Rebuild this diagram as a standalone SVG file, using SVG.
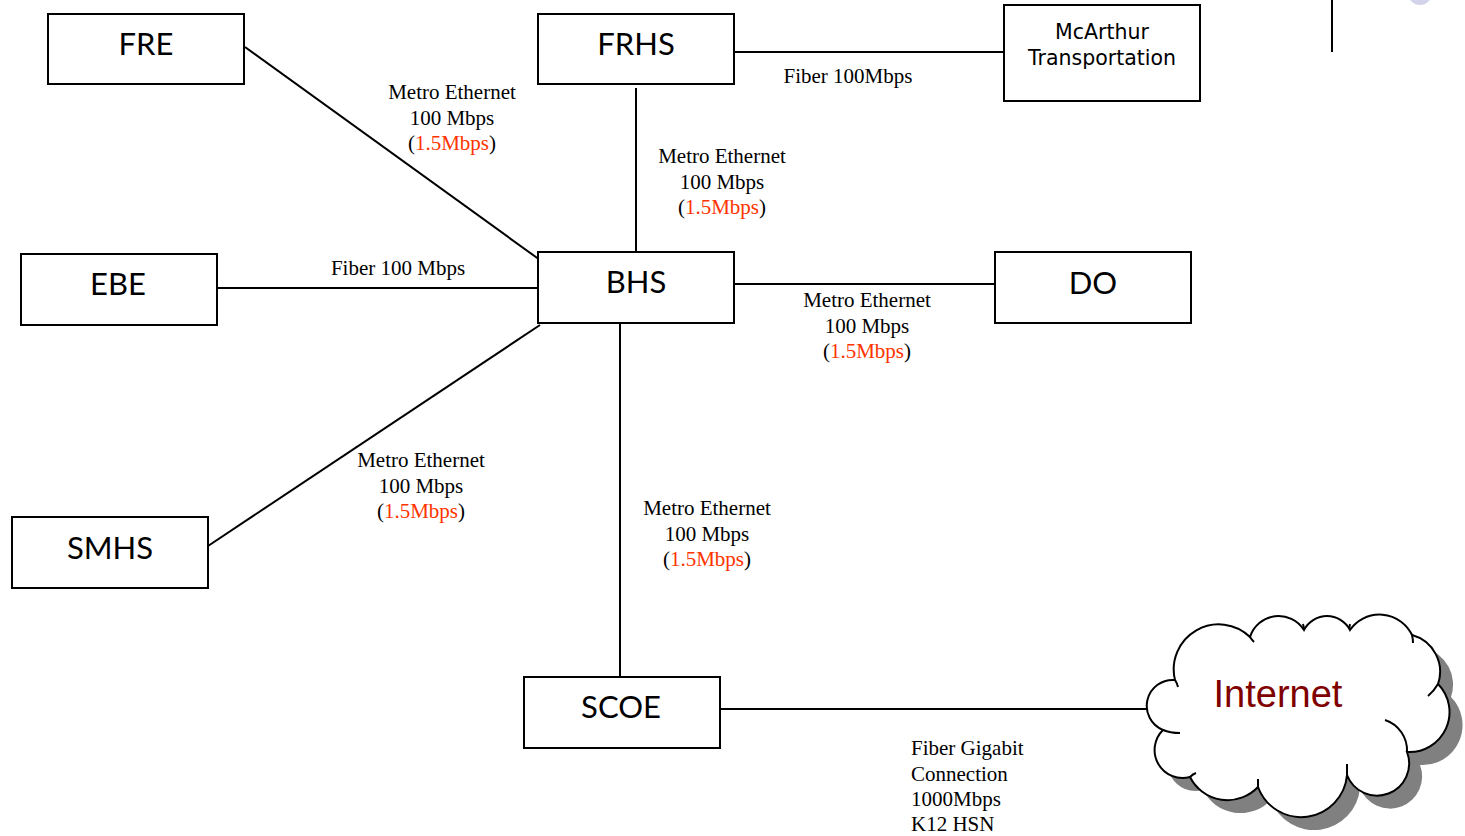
<svg xmlns="http://www.w3.org/2000/svg" width="1465" height="836" viewBox="0 0 1465 836">
<style>
.box{fill:#fff;stroke:#000;stroke-width:2}
.nl{font-family:Lato,"Open Sans","DejaVu Sans",sans-serif;font-size:31px;fill:#000;text-anchor:middle}
.lbl{font-family:"Liberation Serif","Times New Roman",serif;font-size:21px;fill:#000;text-anchor:middle}
.lbl.st{text-anchor:start}
.red{fill:#FF3300}
.conn line{stroke:#000;stroke-width:2}
.cl{fill:none;stroke:#000;stroke-width:2}
</style>
<rect width="1465" height="836" fill="#fff"/>
<line x1="1332" y1="0" x2="1332" y2="52" stroke="#000" stroke-width="2"/>
<circle cx="1420" cy="-7" r="12" fill="#D3D3EA"/>
<g id="connectors" class="conn">
<line x1="245" y1="47" x2="540" y2="260"/>
<line x1="732" y1="52" x2="1004" y2="52"/>
<line x1="636" y1="88" x2="636" y2="252"/>
<line x1="217" y1="288" x2="538" y2="288"/>
<line x1="734" y1="284" x2="995" y2="284"/>
<line x1="540" y1="325" x2="205" y2="548"/>
<line x1="620" y1="323" x2="620" y2="677"/>
<line x1="718" y1="709" x2="1148" y2="709"/>
</g>
<g id="FRE"><rect class="box" x="48" y="14" width="196" height="70"/><text class="nl" x="146" y="55">FRE</text></g>
<g id="FRHS"><rect class="box" x="538" y="14" width="196" height="70"/><text class="nl" x="636" y="55">FRHS</text></g>
<g id="McArthur"><rect class="box" x="1004" y="5" width="196" height="96"/><text x="1102" y="39" font-family="'DejaVu Sans',Verdana,sans-serif" font-size="20.5" text-anchor="middle">McArthur</text><text x="1102" y="65" font-family="'DejaVu Sans',Verdana,sans-serif" font-size="20.5" text-anchor="middle">Transportation</text></g>
<g id="EBE"><rect class="box" x="21" y="254" width="196" height="71"/><text class="nl" x="118" y="295">EBE</text></g>
<g id="BHS"><rect class="box" x="538" y="252" width="196" height="71"/><text class="nl" x="636" y="293">BHS</text></g>
<g id="DO"><rect class="box" x="995" y="252" width="196" height="71"/><text class="nl" x="1093" y="294">DO</text></g>
<g id="SMHS"><rect class="box" x="12" y="517" width="196" height="71"/><text class="nl" x="110" y="559">SMHS</text></g>
<g id="SCOE"><rect class="box" x="524" y="677" width="196" height="71"/><text class="nl" x="621" y="718">SCOE</text></g>
<g id="Internet">
<defs>
<path id="cloud" d="M1175,680 A45,45 0 0 1 1250,637 A30,30 0 0 1 1304,630 A26,26 0 0 1 1350,630 A36,36 0 0 1 1412,635 A38,38 0 0 1 1438,684 A40,40 0 0 1 1407,752 A32,32 0 0 1 1347,775 A46,46 0 0 1 1258,787 A42,42 0 0 1 1190,777 A28,28 0 0 1 1163,730 A26,26 0 0 1 1175,680 Z"/>
</defs>
<use href="#cloud" fill="#808080" transform="translate(13,13)"/>
<use href="#cloud" fill="#fff" stroke="#000" stroke-width="2"/>
<path class="cl" d="M1175,680 Q1177,683 1178,687"/>
<path class="cl" d="M1163,730 Q1170,733 1180,733"/>
<path class="cl" d="M1250,637 Q1252,640 1254,642"/>
<path class="cl" d="M1304,630 Q1304,627 1303,624"/>
<path class="cl" d="M1350,630 Q1349,627 1350,624"/>
<path class="cl" d="M1412,635 Q1413,639 1413,643"/>
<path class="cl" d="M1438,684 Q1434,691 1428,696"/>
<path class="cl" d="M1385,720 A32,32 0 0 1 1407,752"/>
<path class="cl" d="M1347,775 Q1347,770 1347,764"/>
<path class="cl" d="M1258,787 Q1258,783 1258,779"/>
<path class="cl" d="M1190,777 Q1193,774 1196,773"/>
<text x="1278" y="707" font-family="'Liberation Sans',Arial,sans-serif" font-size="38" fill="#800000" text-anchor="middle">Internet</text>
</g>
<g id="labels">
<text class="lbl" x="452" y="99">Metro Ethernet</text>
<text class="lbl" x="452" y="125">100 Mbps</text>
<text class="lbl" x="452" y="150">(<tspan class="red">1.5Mbps</tspan>)</text>
<text class="lbl" x="722" y="163">Metro Ethernet</text>
<text class="lbl" x="722" y="189">100 Mbps</text>
<text class="lbl" x="722" y="214">(<tspan class="red">1.5Mbps</tspan>)</text>
<text class="lbl" x="848" y="83">Fiber 100Mbps</text>
<text class="lbl" x="398" y="275">Fiber 100 Mbps</text>
<text class="lbl" x="867" y="307">Metro Ethernet</text>
<text class="lbl" x="867" y="333">100 Mbps</text>
<text class="lbl" x="867" y="358">(<tspan class="red">1.5Mbps</tspan>)</text>
<text class="lbl" x="421" y="467">Metro Ethernet</text>
<text class="lbl" x="421" y="493">100 Mbps</text>
<text class="lbl" x="421" y="518">(<tspan class="red">1.5Mbps</tspan>)</text>
<text class="lbl" x="707" y="515">Metro Ethernet</text>
<text class="lbl" x="707" y="541">100 Mbps</text>
<text class="lbl" x="707" y="566">(<tspan class="red">1.5Mbps</tspan>)</text>
<text class="lbl st" x="911" y="755">Fiber Gigabit</text>
<text class="lbl st" x="911" y="781">Connection</text>
<text class="lbl st" x="911" y="806">1000Mbps</text>
<text class="lbl st" x="911" y="831">K12 HSN</text>
</g>
</svg>
